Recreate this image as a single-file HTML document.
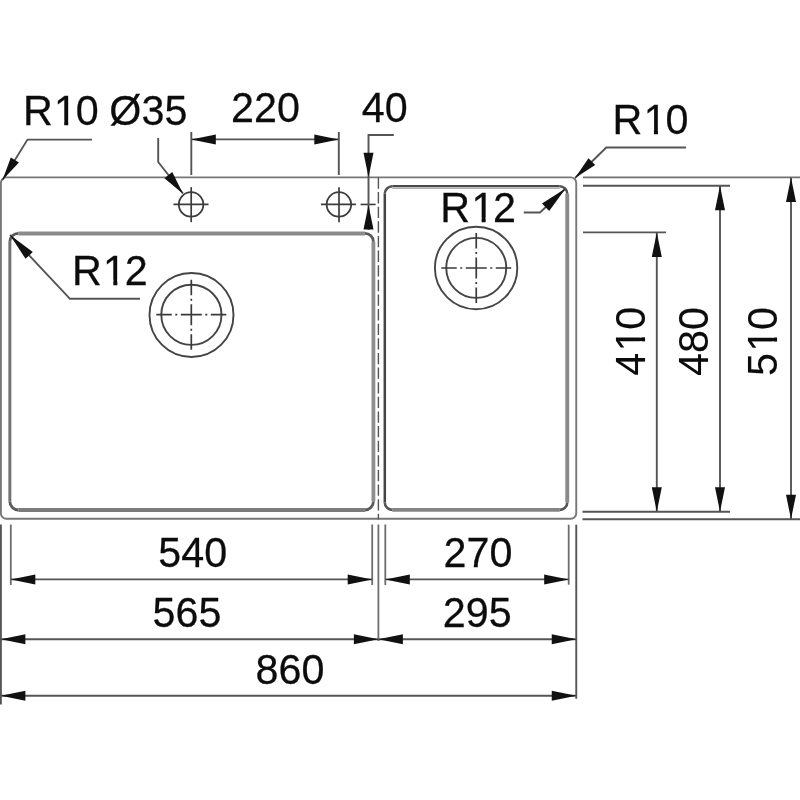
<!DOCTYPE html>
<html><head><meta charset="utf-8"><title>Sink drawing</title>
<style>
html,body{margin:0;padding:0;background:#fff;}
body{width:800px;height:800px;overflow:hidden;}
svg{display:block;will-change:transform;filter:grayscale(1);}
svg text{font-family:"Liberation Sans",Arial,Helvetica,sans-serif;fill:#0c0c0c;stroke:#0c0c0c;stroke-width:0.25px;-webkit-font-smoothing:antialiased;}
svg text.v{stroke-width:0.1px;}
</style></head><body>
<svg width="800" height="800" viewBox="0 0 800 800">
<rect width="800" height="800" fill="#fff"/>
<g>
<rect x="0.9" y="177.4" width="575.35" height="341.4" rx="5.5" ry="5.5" fill="none" stroke="#787878" stroke-width="1.9"/>
<line x1="9.85" y1="241.8" x2="9.85" y2="501.5" stroke="#727272" stroke-width="3.0" />
<line x1="373.4" y1="241.8" x2="373.4" y2="501.5" stroke="#8e8e8e" stroke-width="3.8" />
<line x1="18.35" y1="233.4" x2="364.9" y2="233.4" stroke="#8a8a8a" stroke-width="4.0" />
<line x1="18.35" y1="510" x2="364.9" y2="510" stroke="#7c7c7c" stroke-width="3.8" />
<path d="M9.85,241.8 A8.5,8.5 0 0 1 18.35,233.3 M364.9,233.3 A8.5,8.5 0 0 1 373.4,241.8 M373.4,501.5 A8.5,8.5 0 0 1 364.9,510 M18.35,510 A8.5,8.5 0 0 1 9.85,501.5" fill="none" stroke="#5a5a5a" stroke-width="2.8"/>
<line x1="384.8" y1="193.8" x2="384.8" y2="502.4" stroke="#444" stroke-width="2.5" />
<line x1="567.25" y1="193.8" x2="567.25" y2="502.4" stroke="#8a8a8a" stroke-width="3.9" />
<line x1="392.3" y1="186.10000000000002" x2="559.75" y2="186.10000000000002" stroke="#4a4a4a" stroke-width="2.1" />
<line x1="392.3" y1="188.20000000000002" x2="559.75" y2="188.20000000000002" stroke="#b0b0b0" stroke-width="1.4" />
<line x1="392.3" y1="509.9" x2="559.75" y2="509.9" stroke="#858585" stroke-width="3.9" />
<path d="M384.8,193.8 A7.5,7.5 0 0 1 392.3,186.3 M559.75,186.3 A7.5,7.5 0 0 1 567.25,193.8 M567.25,502.4 A7.5,7.5 0 0 1 559.75,509.9 M392.3,509.9 A7.5,7.5 0 0 1 384.8,502.4" fill="none" stroke="#555" stroke-width="2.6"/>
<line x1="378.4" y1="177.5" x2="378.4" y2="519.4" stroke="#555" stroke-width="1.4" stroke-dasharray="11.3 3.32"/>
<circle cx="191.1" cy="204.45" r="12.25" fill="none" stroke="#3c3c3c" stroke-width="1.8"/>
<line x1="173.5" y1="204.45" x2="208.5" y2="204.45" stroke="#3c3c3c" stroke-width="1.7" />
<line x1="191.2" y1="187.14999999999998" x2="191.2" y2="222.14999999999998" stroke="#3c3c3c" stroke-width="1.7" />
<circle cx="338.9" cy="204.45" r="12.25" fill="none" stroke="#3c3c3c" stroke-width="1.8"/>
<line x1="320.9" y1="204.45" x2="355.9" y2="204.45" stroke="#3c3c3c" stroke-width="1.7" />
<line x1="339.0" y1="187.14999999999998" x2="339.0" y2="222.14999999999998" stroke="#3c3c3c" stroke-width="1.7" />
<line x1="360.6" y1="204.45" x2="375.6" y2="204.45" stroke="#3c3c3c" stroke-width="1.6" />
<circle cx="191.5" cy="315.0" r="42.0" fill="none" stroke="#454545" stroke-width="1.9"/>
<circle cx="191.4" cy="314.8" r="30.1" fill="none" stroke="#454545" stroke-width="1.9"/>
<line x1="156.3" y1="314.7" x2="226.3" y2="314.7" stroke="#3a3a3a" stroke-width="1.7" stroke-dasharray="15.5 3.5 2 3.5 21 3.5 2 3.5 15.5"/>
<line x1="191.3" y1="279.7" x2="191.3" y2="350.2" stroke="#3a3a3a" stroke-width="1.7" stroke-dasharray="15.5 3.5 2 3.5 21 3.5 2 3.5 15.5"/>
<circle cx="476.1" cy="268.0" r="41.2" fill="none" stroke="#454545" stroke-width="1.9"/>
<circle cx="476.25" cy="267.9" r="30.0" fill="none" stroke="#454545" stroke-width="1.9"/>
<line x1="441.25" y1="268.0" x2="511.25" y2="268.0" stroke="#3a3a3a" stroke-width="1.7" stroke-dasharray="15.5 3.5 2 3.5 21 3.5 2 3.5 15.5"/>
<line x1="476.25" y1="233.0" x2="476.25" y2="303.5" stroke="#3a3a3a" stroke-width="1.7" stroke-dasharray="15.5 3.5 2 3.5 21 3.5 2 3.5 15.5"/>
<polyline points="92,139.6 27.5,139.6 2.5,180" fill="none" stroke="#555" stroke-width="1.9" />
<polygon points="2.50,180.00 18.91,162.52 10.83,157.52" fill="#111"/>
<polyline points="158.2,138 158.2,162 183,193.5" fill="none" stroke="#555" stroke-width="1.9" />
<polygon points="183.00,193.70 172.27,171.99 164.41,178.17" fill="#111"/>
<line x1="191.3" y1="132" x2="191.3" y2="175" stroke="#555" stroke-width="1.9" />
<line x1="338.8" y1="132" x2="338.8" y2="175" stroke="#555" stroke-width="1.9" />
<line x1="191.3" y1="139.4" x2="338.8" y2="139.4" stroke="#555" stroke-width="1.9" />
<polygon points="191.30,139.40 215.80,144.40 215.80,134.40" fill="#111"/>
<polygon points="338.80,139.40 314.30,134.40 314.30,144.40" fill="#111"/>
<polyline points="393.8,135 368.5,135 368.5,230" fill="none" stroke="#555" stroke-width="1.9" />
<polygon points="368.50,177.30 373.50,152.80 363.50,152.80" fill="#111"/>
<polygon points="368.50,205.00 363.50,229.50 373.50,229.50" fill="#111"/>
<polyline points="686,147.5 606.3,147.5 575,178" fill="none" stroke="#555" stroke-width="1.9" />
<polygon points="575.00,178.00 595.15,165.00 588.52,158.20" fill="#111"/>
<polyline points="523.8,212.5 540,212.5 565.6,188.4" fill="none" stroke="#555" stroke-width="1.9" />
<polygon points="565.60,188.40 541.98,203.43 549.18,211.07" fill="#111"/>
<polyline points="140,298.8 70,298.8 10,235" fill="none" stroke="#555" stroke-width="1.9" />
<polygon points="10.00,235.00 25.54,258.82 32.82,251.97" fill="#111"/>
<line x1="583" y1="177.4" x2="800" y2="177.4" stroke="#707070" stroke-width="1.9" />
<line x1="583" y1="185.7" x2="730" y2="185.7" stroke="#555" stroke-width="1.9" />
<line x1="583" y1="232.4" x2="666" y2="232.4" stroke="#555" stroke-width="1.9" />
<line x1="582.5" y1="511.7" x2="730" y2="511.7" stroke="#555" stroke-width="1.9" />
<line x1="582.5" y1="519.2" x2="800" y2="519.2" stroke="#555" stroke-width="1.9" />
<line x1="656.8" y1="232.4" x2="656.8" y2="511.7" stroke="#555" stroke-width="1.9" />
<polygon points="656.80,232.40 651.80,256.90 661.80,256.90" fill="#111"/>
<polygon points="656.80,511.70 661.80,487.20 651.80,487.20" fill="#111"/>
<line x1="720" y1="185.7" x2="720" y2="511.7" stroke="#555" stroke-width="1.9" />
<polygon points="720.00,185.70 715.00,210.20 725.00,210.20" fill="#111"/>
<polygon points="720.00,511.70 725.00,487.20 715.00,487.20" fill="#111"/>
<line x1="791" y1="177.4" x2="791" y2="519.2" stroke="#555" stroke-width="1.9" />
<polygon points="791.00,177.40 786.00,201.90 796.00,201.90" fill="#111"/>
<polygon points="791.00,519.20 796.00,494.70 786.00,494.70" fill="#111"/>
<line x1="0.9" y1="524.5" x2="0.9" y2="704.5" stroke="#555" stroke-width="1.9" />
<line x1="10.8" y1="524.5" x2="10.8" y2="585" stroke="#6e6e6e" stroke-width="1.8" />
<line x1="372.2" y1="524.5" x2="372.2" y2="585" stroke="#6e6e6e" stroke-width="1.8" />
<line x1="378.4" y1="524.5" x2="378.4" y2="641" stroke="#6e6e6e" stroke-width="1.8" />
<line x1="385.3" y1="524.5" x2="385.3" y2="585" stroke="#6e6e6e" stroke-width="1.8" />
<line x1="568.7" y1="524.7" x2="568.7" y2="584.7" stroke="#6e6e6e" stroke-width="1.8" />
<line x1="576.25" y1="524.7" x2="576.25" y2="698.8" stroke="#555" stroke-width="1.9" />
<line x1="10.8" y1="579.4" x2="372.2" y2="579.4" stroke="#555" stroke-width="1.9" />
<polygon points="10.80,579.40 35.30,584.40 35.30,574.40" fill="#111"/>
<polygon points="372.20,579.40 347.70,574.40 347.70,584.40" fill="#111"/>
<line x1="385.3" y1="579.4" x2="568.7" y2="579.4" stroke="#555" stroke-width="1.9" />
<polygon points="385.30,579.40 409.80,584.40 409.80,574.40" fill="#111"/>
<polygon points="568.70,579.40 544.20,574.40 544.20,584.40" fill="#111"/>
<line x1="0.9" y1="639.3" x2="378.4" y2="639.3" stroke="#555" stroke-width="1.9" />
<polygon points="0.90,639.30 25.40,644.30 25.40,634.30" fill="#111"/>
<polygon points="378.40,639.30 353.90,634.30 353.90,644.30" fill="#111"/>
<line x1="378.4" y1="639.3" x2="576.25" y2="639.3" stroke="#555" stroke-width="1.9" />
<polygon points="378.40,639.30 402.90,644.30 402.90,634.30" fill="#111"/>
<polygon points="576.25,639.30 551.75,634.30 551.75,644.30" fill="#111"/>
<line x1="0.9" y1="695.7" x2="576.25" y2="695.7" stroke="#555" stroke-width="1.9" />
<polygon points="0.90,695.70 25.40,700.70 25.40,690.70" fill="#111"/>
<polygon points="576.25,695.70 551.75,690.70 551.75,700.70" fill="#111"/>
<g transform="translate(22.9 125.4) scale(1.0 1.045)"><text x="0" y="0" font-size="41.3">R<tspan dx="1.30">1</tspan><tspan dx="-1.30">0</tspan> <tspan dx="-0.80">Ø</tspan>35</text><rect x="33.07" y="-4.69" width="8.24" height="6.89" fill="#fff"/><rect x="45.36" y="-4.69" width="7.92" height="6.89" fill="#fff"/></g>
<g transform="translate(231.0 122.3) scale(1.0 1.045)"><text x="0" y="0" font-size="41.3">220</text></g>
<g transform="translate(361.8 122.3) scale(1.0 1.045)"><text x="0" y="0" font-size="41.3">40</text></g>
<g transform="translate(612.6 134.1) scale(1.0 1.045)"><text x="0" y="0" font-size="41.3">R<tspan dx="1.30">1</tspan><tspan dx="-1.30">0</tspan></text><rect x="33.07" y="-4.69" width="8.24" height="6.89" fill="#fff"/><rect x="45.36" y="-4.69" width="7.92" height="6.89" fill="#fff"/></g>
<g transform="translate(440.3 222.3) scale(1.0 1.045)"><text x="0" y="0" font-size="41.3">R<tspan dx="1.30">1</tspan><tspan dx="-1.30">2</tspan></text><rect x="33.07" y="-4.69" width="8.24" height="6.89" fill="#fff"/><rect x="45.36" y="-4.69" width="7.92" height="6.89" fill="#fff"/></g>
<g transform="translate(72.0 284.5) scale(1.0 1.045)"><text x="0" y="0" font-size="41.3">R<tspan dx="1.30">1</tspan><tspan dx="-1.30">2</tspan></text><rect x="33.07" y="-4.69" width="8.24" height="6.89" fill="#fff"/><rect x="45.36" y="-4.69" width="7.92" height="6.89" fill="#fff"/></g>
<g transform="translate(158.3 567) scale(1.0 1.045)"><text x="0" y="0" font-size="41.3">540</text></g>
<g transform="translate(152.6 627.0) scale(1.0 1.045)"><text x="0" y="0" font-size="41.3">565</text></g>
<g transform="translate(255.5 683.9) scale(1.0 1.045)"><text x="0" y="0" font-size="41.3">860</text></g>
<g transform="translate(443.6 566.8) scale(1.0 1.045)"><text x="0" y="0" font-size="41.3">270</text></g>
<g transform="translate(442.8 627.1) scale(1.0 1.045)"><text x="0" y="0" font-size="41.3">295</text></g>
<g transform="translate(644.5 375.8) rotate(-90) scale(1.0 1.02)"><text x="0" y="0" font-size="41.3" class="v">4<tspan dx="1.30">1</tspan><tspan dx="-1.30">0</tspan></text><rect x="26.21" y="-4.69" width="8.24" height="6.89" fill="#fff"/><rect x="38.50" y="-4.69" width="7.92" height="6.89" fill="#fff"/></g>
<g transform="translate(708.3 375.9) rotate(-90) scale(1.0 1.02)"><text x="0" y="0" font-size="41.3" class="v">480</text></g>
<g transform="translate(777.0 376.0) rotate(-90) scale(1.0 1.02)"><text x="0" y="0" font-size="41.3" class="v">5<tspan dx="1.30">1</tspan><tspan dx="-1.30">0</tspan></text><rect x="26.21" y="-4.69" width="8.24" height="6.89" fill="#fff"/><rect x="38.50" y="-4.69" width="7.92" height="6.89" fill="#fff"/></g>
</g>
</svg>
</body></html>
